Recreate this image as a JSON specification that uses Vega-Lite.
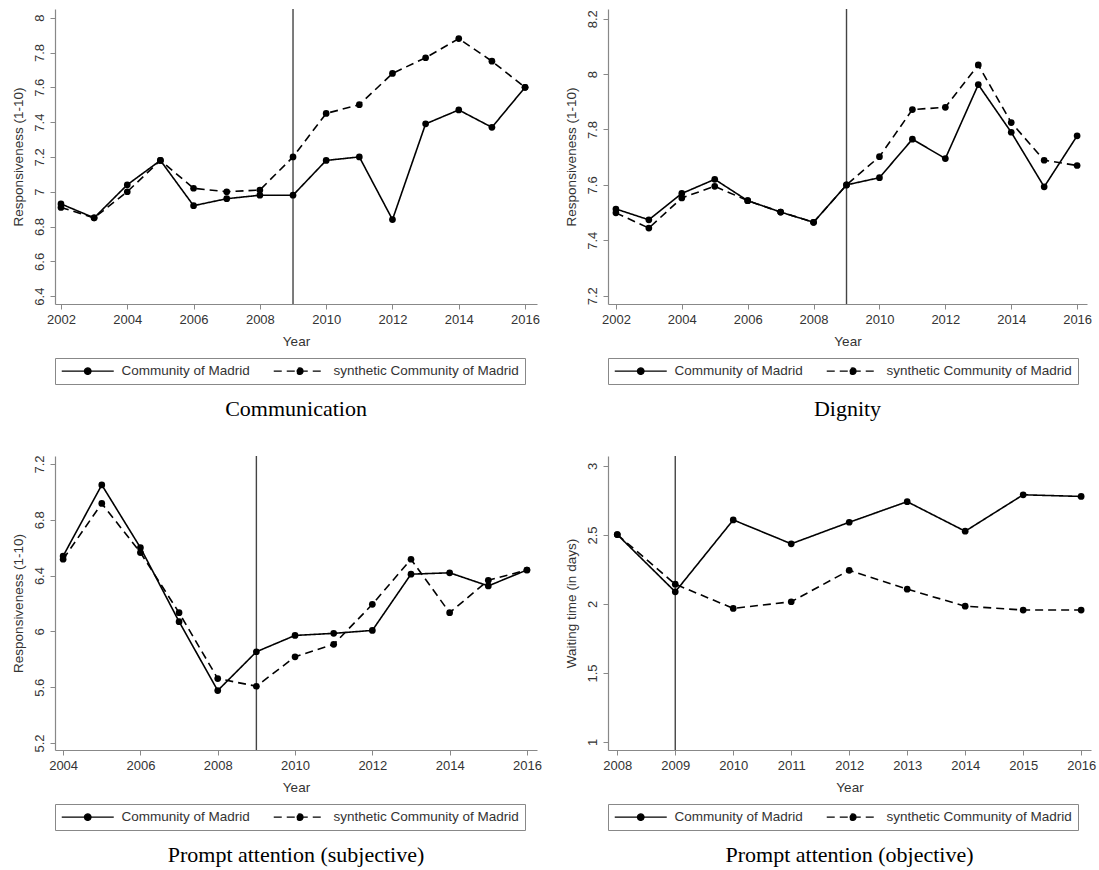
{
  "$schema": "https://vega.github.io/schema/vega-lite/v6.json",
  "background": "white",
  "padding": {"left": 11, "top": 8, "right": 5, "bottom": 5},
  "datasets": {
    "communication": [
      {"year": 2002, "series": "Community of Madrid", "value": 6.93},
      {"year": 2003, "series": "Community of Madrid", "value": 6.85},
      {"year": 2004, "series": "Community of Madrid", "value": 7.04},
      {"year": 2005, "series": "Community of Madrid", "value": 7.18},
      {"year": 2006, "series": "Community of Madrid", "value": 6.92},
      {"year": 2007, "series": "Community of Madrid", "value": 6.96},
      {"year": 2008, "series": "Community of Madrid", "value": 6.98},
      {"year": 2009, "series": "Community of Madrid", "value": 6.98},
      {"year": 2010, "series": "Community of Madrid", "value": 7.18},
      {"year": 2011, "series": "Community of Madrid", "value": 7.2},
      {"year": 2012, "series": "Community of Madrid", "value": 6.84},
      {"year": 2013, "series": "Community of Madrid", "value": 7.39},
      {"year": 2014, "series": "Community of Madrid", "value": 7.47},
      {"year": 2015, "series": "Community of Madrid", "value": 7.37},
      {"year": 2016, "series": "Community of Madrid", "value": 7.6},
      {"year": 2002, "series": "synthetic Community of Madrid", "value": 6.91},
      {"year": 2003, "series": "synthetic Community of Madrid", "value": 6.85},
      {"year": 2004, "series": "synthetic Community of Madrid", "value": 7.0},
      {"year": 2005, "series": "synthetic Community of Madrid", "value": 7.18},
      {"year": 2006, "series": "synthetic Community of Madrid", "value": 7.02},
      {"year": 2007, "series": "synthetic Community of Madrid", "value": 7.0},
      {"year": 2008, "series": "synthetic Community of Madrid", "value": 7.01},
      {"year": 2009, "series": "synthetic Community of Madrid", "value": 7.2},
      {"year": 2010, "series": "synthetic Community of Madrid", "value": 7.45},
      {"year": 2011, "series": "synthetic Community of Madrid", "value": 7.5},
      {"year": 2012, "series": "synthetic Community of Madrid", "value": 7.68},
      {"year": 2013, "series": "synthetic Community of Madrid", "value": 7.77},
      {"year": 2014, "series": "synthetic Community of Madrid", "value": 7.88},
      {"year": 2015, "series": "synthetic Community of Madrid", "value": 7.75},
      {"year": 2016, "series": "synthetic Community of Madrid", "value": 7.6}
    ],
    "dignity": [
      {"year": 2002, "series": "Community of Madrid", "value": 7.513},
      {"year": 2003, "series": "Community of Madrid", "value": 7.474},
      {"year": 2004, "series": "Community of Madrid", "value": 7.569},
      {"year": 2005, "series": "Community of Madrid", "value": 7.62},
      {"year": 2006, "series": "Community of Madrid", "value": 7.543},
      {"year": 2007, "series": "Community of Madrid", "value": 7.502},
      {"year": 2008, "series": "Community of Madrid", "value": 7.465},
      {"year": 2009, "series": "Community of Madrid", "value": 7.6},
      {"year": 2010, "series": "Community of Madrid", "value": 7.626},
      {"year": 2011, "series": "Community of Madrid", "value": 7.765},
      {"year": 2012, "series": "Community of Madrid", "value": 7.695},
      {"year": 2013, "series": "Community of Madrid", "value": 7.962},
      {"year": 2014, "series": "Community of Madrid", "value": 7.79},
      {"year": 2015, "series": "Community of Madrid", "value": 7.593},
      {"year": 2016, "series": "Community of Madrid", "value": 7.777},
      {"year": 2002, "series": "synthetic Community of Madrid", "value": 7.499},
      {"year": 2003, "series": "synthetic Community of Madrid", "value": 7.444},
      {"year": 2004, "series": "synthetic Community of Madrid", "value": 7.553},
      {"year": 2005, "series": "synthetic Community of Madrid", "value": 7.595},
      {"year": 2006, "series": "synthetic Community of Madrid", "value": 7.543},
      {"year": 2007, "series": "synthetic Community of Madrid", "value": 7.502},
      {"year": 2008, "series": "synthetic Community of Madrid", "value": 7.465},
      {"year": 2009, "series": "synthetic Community of Madrid", "value": 7.6},
      {"year": 2010, "series": "synthetic Community of Madrid", "value": 7.702},
      {"year": 2011, "series": "synthetic Community of Madrid", "value": 7.872},
      {"year": 2012, "series": "synthetic Community of Madrid", "value": 7.88},
      {"year": 2013, "series": "synthetic Community of Madrid", "value": 8.033},
      {"year": 2014, "series": "synthetic Community of Madrid", "value": 7.825},
      {"year": 2015, "series": "synthetic Community of Madrid", "value": 7.689},
      {"year": 2016, "series": "synthetic Community of Madrid", "value": 7.67}
    ],
    "subjective": [
      {"year": 2004, "series": "Community of Madrid", "value": 6.54},
      {"year": 2005, "series": "Community of Madrid", "value": 7.05},
      {"year": 2006, "series": "Community of Madrid", "value": 6.6},
      {"year": 2007, "series": "Community of Madrid", "value": 6.07},
      {"year": 2008, "series": "Community of Madrid", "value": 5.576},
      {"year": 2009, "series": "Community of Madrid", "value": 5.854},
      {"year": 2010, "series": "Community of Madrid", "value": 5.971},
      {"year": 2011, "series": "Community of Madrid", "value": 5.986},
      {"year": 2012, "series": "Community of Madrid", "value": 6.007},
      {"year": 2013, "series": "Community of Madrid", "value": 6.41},
      {"year": 2014, "series": "Community of Madrid", "value": 6.42},
      {"year": 2015, "series": "Community of Madrid", "value": 6.326},
      {"year": 2016, "series": "Community of Madrid", "value": 6.44},
      {"year": 2004, "series": "synthetic Community of Madrid", "value": 6.517},
      {"year": 2005, "series": "synthetic Community of Madrid", "value": 6.917},
      {"year": 2006, "series": "synthetic Community of Madrid", "value": 6.565},
      {"year": 2007, "series": "synthetic Community of Madrid", "value": 6.134},
      {"year": 2008, "series": "synthetic Community of Madrid", "value": 5.662},
      {"year": 2009, "series": "synthetic Community of Madrid", "value": 5.607},
      {"year": 2010, "series": "synthetic Community of Madrid", "value": 5.818},
      {"year": 2011, "series": "synthetic Community of Madrid", "value": 5.907},
      {"year": 2012, "series": "synthetic Community of Madrid", "value": 6.194},
      {"year": 2013, "series": "synthetic Community of Madrid", "value": 6.517},
      {"year": 2014, "series": "synthetic Community of Madrid", "value": 6.134},
      {"year": 2015, "series": "synthetic Community of Madrid", "value": 6.366},
      {"year": 2016, "series": "synthetic Community of Madrid", "value": 6.44}
    ],
    "objective": [
      {"year": 2008, "series": "Community of Madrid", "value": 2.503},
      {"year": 2009, "series": "Community of Madrid", "value": 2.088},
      {"year": 2010, "series": "Community of Madrid", "value": 2.609},
      {"year": 2011, "series": "Community of Madrid", "value": 2.436},
      {"year": 2012, "series": "Community of Madrid", "value": 2.592},
      {"year": 2013, "series": "Community of Madrid", "value": 2.741},
      {"year": 2014, "series": "Community of Madrid", "value": 2.527},
      {"year": 2015, "series": "Community of Madrid", "value": 2.791},
      {"year": 2016, "series": "Community of Madrid", "value": 2.779},
      {"year": 2008, "series": "synthetic Community of Madrid", "value": 2.503},
      {"year": 2009, "series": "synthetic Community of Madrid", "value": 2.143},
      {"year": 2010, "series": "synthetic Community of Madrid", "value": 1.968},
      {"year": 2011, "series": "synthetic Community of Madrid", "value": 2.016},
      {"year": 2012, "series": "synthetic Community of Madrid", "value": 2.244},
      {"year": 2013, "series": "synthetic Community of Madrid", "value": 2.107},
      {"year": 2014, "series": "synthetic Community of Madrid", "value": 1.984},
      {"year": 2015, "series": "synthetic Community of Madrid", "value": 1.956},
      {"year": 2016, "series": "synthetic Community of Madrid", "value": 1.956}
    ],
    "treat": [{"year": 2009}]
  },
  "config": {
    "view": {"stroke": null},
    "font": "Liberation Sans",
    "axis": {
      "grid": false,
      "domainColor": "#888",
      "domainWidth": 1.2,
      "tickColor": "#888",
      "tickSize": 5,
      "tickCount": 20,
      "labelFont": "Liberation Sans",
      "labelFontSize": 13,
      "labelColor": "#333",
      "titleFont": "Liberation Sans",
      "titleFontSize": 13.5,
      "titleFontWeight": "normal",
      "titleColor": "#333",
      "labelPadding": 4,
      "labelOverlap": false,
      "labelFlush": false
    },
    "axisX": {"titlePadding": 8},
    "axisY": {"labelAngle": -90, "titlePadding": 8},
    "legend": {
      "orient": "bottom",
      "direction": "horizontal",
      "title": null,
      "strokeColor": "#888",
      "padding": 6,
      "offset": 10,
      "labelFont": "Liberation Sans",
      "labelFontSize": 13.5,
      "labelColor": "#333",
      "labelLimit": 400,
      "columnPadding": 21,
      "labelOffset": 27,
      "symbolType": "M-5.2,0H5.2M0.65,0A0.65,0.65,0,1,1,-0.65,0A0.65,0.65,0,1,1,0.65,0Z",
      "symbolSize": 100,
      "symbolStrokeWidth": 1.3,
      "symbolStrokeColor": "black",
      "symbolFillColor": "black",
      "symbolOffset": 20
    },
    "title": {
      "orient": "bottom",
      "anchor": "middle",
      "frame": "group",
      "font": "Liberation Serif",
      "fontSize": 22,
      "fontWeight": "normal",
      "color": "black",
      "offset": 14
    }
  },
  "columns": 2,
  "spacing": {"row": 152, "column": 71},
  "bounds": "flush",
  "resolve": {
    "scale": {"x": "independent", "y": "independent", "strokeDash": "independent"},
    "axis": {"x": "independent", "y": "independent"},
    "legend": {"strokeDash": "independent"}
  },
  "concat": [
    {
      "width": 482, "height": 295,
      "title": "Communication",
      "layer": [
        {"data": {"name": "treat"}, "mark": {"type": "rule", "color": "#444", "strokeWidth": 1.4},
         "encoding": {"x": {"field": "year", "type": "quantitative"}}},
        {"data": {"name": "communication"}, "mark": {"type": "line", "color": "black", "strokeWidth": 1.6},
         "encoding": {
           "x": {"field": "year", "type": "quantitative", "scale": {"domain": [2001.82, 2016.36], "nice": false, "zero": false},
                 "axis": {"title": "Year", "values": [2002, 2004, 2006, 2008, 2010, 2012, 2014, 2016], "format": "d", "tickCount": 20}},
           "y": {"field": "value", "type": "quantitative", "scale": {"domain": [6.355, 8.05], "nice": false, "zero": false},
                 "axis": {"title": "Responsiveness (1-10)", "values": [6.4, 6.6, 6.8, 7, 7.2, 7.4, 7.6, 7.8, 8], "format": "~g", "tickCount": 20}},
           "strokeDash": {"field": "series", "type": "nominal", "scale": {"domain": ["Community of Madrid", "synthetic Community of Madrid"], "range": [[1, 0], [8, 5]]},
                          "legend": {"encode": {"symbols": {"update": {"fill": {"value": "black"}, "stroke": {"value": "black"}}}}}}
         }},
        {"data": {"name": "communication"}, "mark": {"type": "point", "filled": true, "color": "black", "size": 45, "opacity": 1},
         "encoding": {"x": {"field": "year", "type": "quantitative"}, "y": {"field": "value", "type": "quantitative"}}}
      ]
    },
    {
      "width": 479, "height": 295,
      "title": "Dignity",
      "layer": [
        {"data": {"name": "treat"}, "mark": {"type": "rule", "color": "#444", "strokeWidth": 1.4},
         "encoding": {"x": {"field": "year", "type": "quantitative"}}},
        {"data": {"name": "dignity"}, "mark": {"type": "line", "color": "black", "strokeWidth": 1.6},
         "encoding": {
           "x": {"field": "year", "type": "quantitative", "scale": {"domain": [2001.76, 2016.3], "nice": false, "zero": false},
                 "axis": {"title": "Year", "values": [2002, 2004, 2006, 2008, 2010, 2012, 2014, 2016], "format": "d", "tickCount": 20}},
           "y": {"field": "value", "type": "quantitative", "scale": {"domain": [7.17, 8.235], "nice": false, "zero": false},
                 "axis": {"title": "Responsiveness (1-10)", "values": [7.2, 7.4, 7.6, 7.8, 8, 8.2], "format": "~g", "tickCount": 20}},
           "strokeDash": {"field": "series", "type": "nominal", "scale": {"domain": ["Community of Madrid", "synthetic Community of Madrid"], "range": [[1, 0], [8, 5]]},
                          "legend": {"encode": {"symbols": {"update": {"fill": {"value": "black"}, "stroke": {"value": "black"}}}}}}
         }},
        {"data": {"name": "dignity"}, "mark": {"type": "point", "filled": true, "color": "black", "size": 45, "opacity": 1},
         "encoding": {"x": {"field": "year", "type": "quantitative"}, "y": {"field": "value", "type": "quantitative"}}}
      ]
    },
    {
      "width": 482, "height": 294,
      "title": "Prompt attention (subjective)",
      "layer": [
        {"data": {"name": "treat"}, "mark": {"type": "rule", "color": "#444", "strokeWidth": 1.4},
         "encoding": {"x": {"field": "year", "type": "quantitative"}}},
        {"data": {"name": "subjective"}, "mark": {"type": "line", "color": "black", "strokeWidth": 1.6},
         "encoding": {
           "x": {"field": "year", "type": "quantitative", "scale": {"domain": [2003.79, 2016.26], "nice": false, "zero": false},
                 "axis": {"title": "Year", "values": [2004, 2006, 2008, 2010, 2012, 2014, 2016], "format": "d", "tickCount": 20}},
           "y": {"field": "value", "type": "quantitative", "scale": {"domain": [5.15, 7.257], "nice": false, "zero": false},
                 "axis": {"title": "Responsiveness (1-10)", "values": [5.2, 5.6, 6, 6.4, 6.8, 7.2], "format": "~g", "tickCount": 20}},
           "strokeDash": {"field": "series", "type": "nominal", "scale": {"domain": ["Community of Madrid", "synthetic Community of Madrid"], "range": [[1, 0], [8, 5]]},
                          "legend": {"encode": {"symbols": {"update": {"fill": {"value": "black"}, "stroke": {"value": "black"}}}}}}
         }},
        {"data": {"name": "subjective"}, "mark": {"type": "point", "filled": true, "color": "black", "size": 45, "opacity": 1},
         "encoding": {"x": {"field": "year", "type": "quantitative"}, "y": {"field": "value", "type": "quantitative"}}}
      ]
    },
    {
      "width": 483, "height": 294,
      "title": "Prompt attention (objective)",
      "layer": [
        {"data": {"name": "treat"}, "mark": {"type": "rule", "color": "#444", "strokeWidth": 1.4},
         "encoding": {"x": {"field": "year", "type": "quantitative"}}},
        {"data": {"name": "objective"}, "mark": {"type": "line", "color": "black", "strokeWidth": 1.6},
         "encoding": {
           "x": {"field": "year", "type": "quantitative", "scale": {"domain": [2007.84, 2016.17], "nice": false, "zero": false},
                 "axis": {"title": "Year", "values": [2008, 2009, 2010, 2011, 2012, 2013, 2014, 2015, 2016], "format": "d", "tickCount": 20}},
           "y": {"field": "value", "type": "quantitative", "scale": {"domain": [0.942, 3.072], "nice": false, "zero": false},
                 "axis": {"title": "Waiting time (in days)", "values": [1, 1.5, 2, 2.5, 3], "format": "~g", "tickCount": 20}},
           "strokeDash": {"field": "series", "type": "nominal", "scale": {"domain": ["Community of Madrid", "synthetic Community of Madrid"], "range": [[1, 0], [8, 5]]},
                          "legend": {"encode": {"symbols": {"update": {"fill": {"value": "black"}, "stroke": {"value": "black"}}}}}}
         }},
        {"data": {"name": "objective"}, "mark": {"type": "point", "filled": true, "color": "black", "size": 45, "opacity": 1},
         "encoding": {"x": {"field": "year", "type": "quantitative"}, "y": {"field": "value", "type": "quantitative"}}}
      ]
    }
  ]
}
